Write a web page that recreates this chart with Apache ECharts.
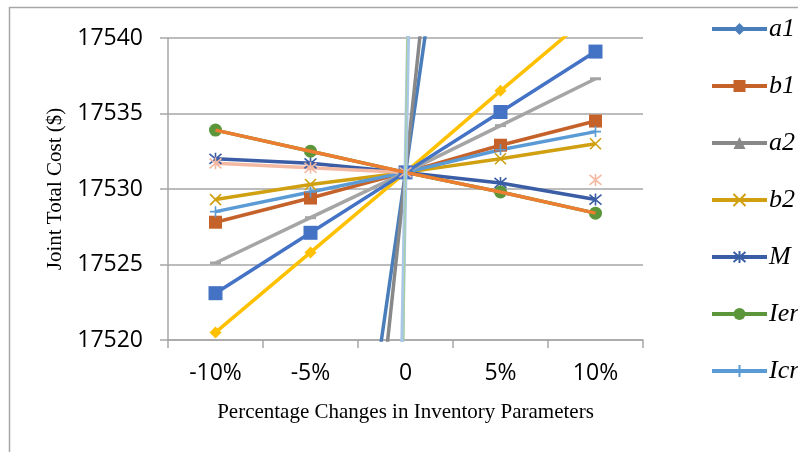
<!DOCTYPE html>
<html>
<head>
<meta charset="utf-8">
<script src="https://cdn.jsdelivr.net/npm/echarts@6/dist/echarts.min.js"></script>
<style>
  html, body { margin: 0; padding: 0; background: #ffffff; }
  #chart { width: 798px; height: 452px; }
</style>
</head>
<body>
<div id="chart"></div>
<script>
// Percentage change applied to each inventory parameter
const categories = ['-10%', '-5%', '0', '5%', '10%'];

// Joint total cost ($) for each parameter change
const a1  = [17443.0, 17487.3, 17531.1, 17574.9, 17619.0];
const b1  = [17527.8, 17529.4, 17531.1, 17532.9, 17534.5];
const a2  = [17412.0, 17471.8, 17531.1, 17590.4, 17650.0];
const b2  = [17529.3, 17530.3, 17531.1, 17532.0, 17533.0];
const M   = [17532.0, 17531.7, 17531.1, 17530.4, 17529.3];
const Ier = [17533.9, 17532.5, 17531.1, 17529.8, 17528.4];
const Icr = [17528.5, 17529.8, 17531.1, 17532.6, 17533.8];
const Ies = [17533.9, 17532.5, 17531.1, 17529.8, 17528.4];
const Ms  = [17531.7, 17531.4, 17531.1, null, 17530.6];
const c1  = [17523.1, 17527.1, 17531.1, 17535.1, 17539.1];
const c2  = [17525.1, 17528.1, 17531.1, 17534.2, 17537.3];
const d1  = [17520.5, 17525.8, 17531.1, 17536.5, 17541.8];
const d2  = [16865.0, 17198.0, 17531.1, 17864.0, 18197.0];
const d3  = [16131.0, 16831.0, 17531.1, 18231.0, 18931.0];

// Stroked marker shapes
const X_MARK = 'path://M0,0L10,10M10,0L0,10';
const STAR_MARK = 'path://M0,1L10,11M10,1L0,11M5,0L5,12';
const PLUS_MARK = 'path://M5,0L5,10M0,5L10,5';

const LINE_W = 3.5;

function lineSeries(name, data, color, symbol, size, extra) {
  const s = {
    name: name,
    type: 'line',
    data: data,
    symbol: symbol,
    symbolSize: size,
    color: color,
    lineStyle: { color: color, width: LINE_W },
    itemStyle: { color: color },
    emphasis: { disabled: true },
    animation: false
  };
  if (symbol && symbol.indexOf('path://') === 0) {
    s.itemStyle = { color: color, borderColor: color, borderWidth: 1.6 };
  }
  return Object.assign(s, extra || {});
}

const series = [
  lineSeries('a1',  a1,  '#4A7EBB', 'diamond', 12),
  lineSeries('b1',  b1,  '#C5622A', 'rect', 13),
  lineSeries('a2',  a2,  '#888888', 'triangle', 12),
  lineSeries('b2',  b2,  '#D0A010', X_MARK, 11),
  lineSeries('M',   M,   '#3A5DA6', STAR_MARK, 12),
  lineSeries('Ier', Ier, '#5B963B', 'circle', 13),
  lineSeries('Icr', Icr, '#5B9BD5', PLUS_MARK, 11),
  lineSeries('d1',  d1,  '#FFC000', 'diamond', 12),
  lineSeries('c2',  c2,  '#A5A5A5', 'rect', [11, 3]),
  lineSeries('c1',  c1,  '#4472C4', 'rect', 14),
  lineSeries('Ms',  Ms,  '#F4B9A3', STAR_MARK, 12),
  lineSeries('Ies', Ies, '#ED7D31', 'none', 0, { z: 10 }),
  lineSeries('d2',  d2,  '#A9C8E8', 'none', 0, { z: 11, lineStyle: { color: '#A9C8E8', width: 4 } }),
  lineSeries('d3',  d3,  '#A9D18E', 'none', 0, { z: 11, lineStyle: { color: '#A9D18E', width: 1 } })
];

const chart = echarts.init(document.getElementById('chart'), null, { renderer: 'canvas' });

chart.setOption({
  backgroundColor: '#ffffff',
  animation: false,
  grid: { left: 168, top: 38, width: 475, height: 302, containLabel: false },
  graphic: [{
    type: 'rect',
    silent: true,
    shape: { x: 9.5, y: 7.5, width: 840, height: 520 },
    style: { fill: 'none', stroke: '#A6A6A6', lineWidth: 1.5 }
  }],
  legend: {
    orient: 'vertical',
    left: 705,
    top: 11,
    data: ['a1', 'b1', 'a2', 'b2', 'M', 'Ier', 'Icr'],
    itemWidth: 55,
    itemHeight: 15,
    itemGap: 31,
    lineStyle: { width: 4 },
    textStyle: {
      fontFamily: 'Liberation Serif',
      fontStyle: 'italic',
      fontSize: 26,
      lineHeight: 26,
      color: '#000000',
      padding: [0, 0, 0, -3]
    }
  },
  xAxis: {
    type: 'category',
    data: categories,
    boundaryGap: true,
    name: 'Percentage Changes in Inventory Parameters',
    nameLocation: 'middle',
    nameGap: 62,
    nameTextStyle: { fontFamily: 'Liberation Serif', fontSize: 21, color: '#000000' },
    axisLine: { lineStyle: { color: '#A6A6A6', width: 1.5 } },
    axisTick: { show: true, length: 8, lineStyle: { color: '#A6A6A6', width: 1.5 } },
    axisLabel: { fontFamily: 'Open Sans', fontSize: 23, color: '#000000', margin: 22 },
    splitLine: { show: false }
  },
  yAxis: {
    type: 'value',
    min: 17520,
    max: 17540,
    interval: 5,
    name: 'Joint Total Cost ($)',
    nameLocation: 'middle',
    nameGap: 90,
    nameTextStyle: { fontFamily: 'Liberation Serif', fontSize: 21, color: '#000000' },
    axisLine: { show: true, lineStyle: { color: '#A6A6A6', width: 1.5 } },
    axisTick: { show: true, length: 8, lineStyle: { color: '#A6A6A6', width: 1.5 } },
    axisLabel: {
      fontFamily: 'Open Sans', fontSize: 23, color: '#000000', margin: 25,
      formatter: function (v) { return String(v); }
    },
    splitLine: { show: true, lineStyle: { color: '#A6A6A6', width: 1.5 } }
  },
  series: series
});
</script>
</body>
</html>
